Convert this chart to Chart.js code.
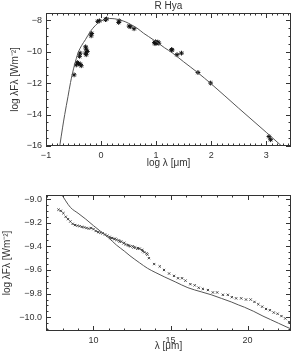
<!DOCTYPE html>
<html>
<head>
<meta charset="utf-8">
<script src="https://cdn.jsdelivr.net/npm/chart.js@4.4.1/dist/chart.umd.min.js"></script>
<style>
  body { margin: 0; background: #fff; }
  .panel { position: absolute; left: 0; width: 296px; height: 178px; }
</style>
</head>
<body>
<div class="panel" style="top:0"><canvas id="sed" width="296" height="178"></canvas></div>
<div class="panel" style="top:178px"><canvas id="lrs" width="296" height="178"></canvas></div>
<script>
// photometry of R Hya, log lambda [um] vs log lambda F_lambda [W m^-2]
const sedLogLam  = [-0.49, -0.45, -0.43, -0.41, -0.38, -0.36, -0.39, -0.38, -0.28, -0.27, -0.28, -0.25, -0.27,
                    -0.17, -0.18, -0.06, -0.03, 0.08, 0.10, 0.32, 0.33, 0.51, 0.53, 0.60,
                    0.97, 0.99, 1.01, 1.03, 1.05, 0.98, 1.28, 1.29, 1.38, 1.46, 1.76, 1.99, 3.05, 3.08];
const sedLogFlux = [-11.48, -10.85, -10.70, -10.75, -10.80, -10.90, -10.30, -10.10, -9.70, -9.85, -10.10, -10.00, -10.20,
                    -8.85, -9.00, -8.08, -8.05, -7.97, -7.93, -8.15, -8.05, -8.38, -8.42, -8.55,
                    -9.42, -9.38, -9.45, -9.40, -9.47, -9.50, -9.88, -9.90, -10.20, -10.10, -11.33, -12.00, -15.40, -15.60];
// model SED
const sedModelLogLam  = [-0.75, -0.70, -0.66, -0.60, -0.555, -0.50, -0.45, -0.42, -0.35, -0.285, -0.20, -0.10, -0.05,
                         0.00, 0.10, 0.15, 0.25, 0.35, 0.45, 0.55, 0.65, 0.77, 0.86, 1.00, 1.15, 1.30, 1.50,
                         1.76, 2.00, 2.50, 3.00, 3.28];
const sedModelLogFlux = [-16.0, -14.85, -14.0, -12.85, -11.97, -11.1, -10.45, -10.1, -9.6, -9.25, -8.75, -8.33, -8.18,
                         -8.06, -7.93, -7.90, -7.92, -8.00, -8.12, -8.30, -8.50, -8.83, -9.04, -9.37, -9.75, -10.1, -10.65,
                         -11.35, -12.05, -13.6, -15.13, -16.0];
// IRAS LRS spectrum, lambda [um]
const lrsLam = [7.73, 7.88, 8.05, 8.20, 8.35, 8.50, 8.65, 8.80, 8.95, 9.10, 9.25, 9.40, 9.55, 9.70, 9.85,
                10.00, 10.15, 10.30, 10.45, 10.60, 10.75, 10.90, 11.05, 11.20, 11.35, 11.50, 11.65, 11.80, 11.95,
                12.10, 12.25, 12.40, 12.55, 12.70, 12.85, 13.00, 13.15, 13.30, 13.45, 13.60,
                11.10, 11.40, 11.70, 12.00, 12.30, 12.60, 12.90, 13.20, 13.50,
                13.94, 14.30, 14.58, 14.91, 15.23, 15.49, 15.75, 15.97, 16.29, 16.57, 16.83, 17.10, 17.43, 17.75,
                18.03, 18.40, 18.72, 18.98, 19.26, 19.59, 19.90, 20.20, 20.45, 20.70, 20.95, 21.20, 21.45, 21.70,
                21.95, 22.20, 22.45, 22.70];
const lrsLogFlux = [-9.09, -9.10, -9.12, -9.15, -9.17, -9.19, -9.21, -9.22, -9.225, -9.23, -9.235, -9.24, -9.245, -9.25, -9.245,
                    -9.255, -9.27, -9.28, -9.285, -9.29, -9.30, -9.31, -9.32, -9.33, -9.34, -9.345, -9.35, -9.36, -9.375,
                    -9.385, -9.39, -9.40, -9.40, -9.41, -9.42, -9.42, -9.43, -9.45, -9.46, -9.50,
                    -9.33, -9.335, -9.36, -9.37, -9.395, -9.41, -9.415, -9.44, -9.47,
                    -9.55, -9.57, -9.60, -9.63, -9.65, -9.67, -9.67, -9.69, -9.72, -9.73, -9.75, -9.76, -9.77, -9.79,
                    -9.79, -9.81, -9.81, -9.83, -9.84, -9.84, -9.85, -9.85, -9.87, -9.89, -9.91, -9.93, -9.94, -9.96,
                    -9.97, -9.99, -10.01, -10.04];
const lrsModelLam  = [7.90, 8.50, 9.00, 9.50, 10.00, 10.43, 11.00, 11.50, 12.00, 12.37, 13.00, 13.50, 14.00, 14.63,
                      15.30, 16.13, 17.00, 17.65, 18.30, 18.94, 19.40, 19.80, 20.40, 21.00, 21.50, 22.00, 22.50, 22.85];
const lrsModelLogFlux = [-8.955, -9.07, -9.12, -9.17, -9.225, -9.27, -9.33, -9.39, -9.44, -9.48, -9.54, -9.585, -9.62, -9.66,
                         -9.70, -9.75, -9.785, -9.81, -9.84, -9.87, -9.895, -9.915, -9.95, -9.99, -10.02, -10.05, -10.08, -10.10];

const sedXTicks = [-1, 0, 1, 2, 3];
const sedYTicks = [-16, -14, -12, -10, -8];
const lrsXTicks = [10, 15, 20];
const lrsYTicks = [-10.0, -9.8, -9.6, -9.4, -9.2, -9.0];

const yTitle = 'log \u03bbF\u03bb [Wm\u207b\u00b2]';
const ink = '#333';
const tickFont = { family: 'Liberation Sans, Arial, sans-serif', size: 9 };
const titleFont = { family: 'Liberation Sans, Arial, sans-serif', size: 10 };
const minus = s => s.replace('-', '\u2212');

// IDL style frame: box with inward ticks on all four sides
const idlFrame = {
  id: 'idlFrame',
  afterDatasetsDraw(chart, args, opts) {
    const { ctx, chartArea: a, scales } = chart;
    ctx.save();
    ctx.strokeStyle = ink;
    ctx.lineWidth = 1;
    ctx.strokeRect(a.left + 0.5, a.top + 0.5, a.right - a.left - 1, a.bottom - a.top - 1);
    ctx.beginPath();
    const sx = scales.x, sy = scales.y;
    const mark = (scale, v, len, horiz) => {
      const p = Math.round(scale.getPixelForValue(v)) + 0.5;
      if (horiz) {
        ctx.moveTo(p, a.bottom); ctx.lineTo(p, a.bottom - len);
        ctx.moveTo(p, a.top); ctx.lineTo(p, a.top + len);
      } else {
        ctx.moveTo(a.left, p); ctx.lineTo(a.left + len, p);
        ctx.moveTo(a.right, p); ctx.lineTo(a.right - len, p);
      }
    };
    const minors = (scale, step, major, horiz) => {
      const n0 = Math.ceil(scale.min / step - 1e-6), n1 = Math.floor(scale.max / step + 1e-6);
      for (let n = n0; n <= n1; n++) {
        const v = n * step;
        if (major.some(m => Math.abs(m - v) < step / 10)) continue;
        mark(scale, v, 2.5, horiz);
      }
    };
    opts.xMajor.forEach(v => mark(sx, v, 5, true));
    opts.yMajor.forEach(v => mark(sy, v, 5, false));
    minors(sx, opts.xMinor, opts.xMajor, true);
    minors(sy, opts.yMinor, opts.yMajor, false);
    ctx.stroke();
    ctx.restore();
  }
};

function axis(min, max, ticks, fmt, extra) {
  return Object.assign({
    type: 'linear', min: min, max: max,
    grid: { display: false, drawTicks: false },
    border: { display: false },
    afterBuildTicks: s => { s.ticks = ticks.map(v => ({ value: v })); },
    ticks: { color: ink, font: tickFont, padding: 4, callback: fmt, maxRotation: 0, autoSkip: false }
  }, extra);
}

Chart.defaults.color = ink;
Chart.defaults.animation = false;

new Chart(document.getElementById('sed'), {
  type: 'scatter',
  data: {
    datasets: [{
      data: sedModelLogLam.map((v, i) => ({ x: v, y: sedModelLogFlux[i] })),
      showLine: true, borderColor: '#555', borderWidth: 1, pointRadius: 0,
      cubicInterpolationMode: 'monotone'
    }, {
      data: sedLogLam.map((v, i) => ({ x: v, y: sedLogFlux[i] })),
      pointStyle: 'star', pointRadius: 2.4, borderColor: '#111', borderWidth: 1
    }]
  },
  options: {
    responsive: false,
    devicePixelRatio: 1,
    layout: { padding: { left: 0, right: 3, top: 0, bottom: 0 } },
    plugins: {
      legend: { display: false }, tooltip: { enabled: false },
      idlFrame: { xMajor: sedXTicks, yMajor: sedYTicks, xMinor: 0.1, yMinor: 0.5 }
    },
    scales: {
      x: axis(-1, 3.45, sedXTicks, v => minus(String(v)), {
        afterFit: s => { s.height = 32; },
        title: { display: true, text: 'log \u03bb [\u03bcm]', color: ink, font: titleFont, padding: { top: 0, bottom: 9 } }
      }),
      top: {
        type: 'linear', position: 'top', min: 0, max: 1,
        grid: { display: false, drawTicks: false }, border: { display: false },
        ticks: { display: false },
        afterFit: s => { s.height = 13; },
        title: { display: true, text: 'R Hya', color: ink, font: titleFont, padding: { top: 0.6, bottom: 0 } }
      },
      y: axis(-16, -7.55, sedYTicks, v => minus(String(v)), {
        afterFit: s => { s.width = 46; },
        title: { display: true, text: yTitle, color: ink, font: titleFont, padding: { top: 9, bottom: 0 } }
      })
    }
  },
  plugins: [idlFrame]
});

new Chart(document.getElementById('lrs'), {
  type: 'scatter',
  data: {
    datasets: [{
      data: lrsModelLam.map((v, i) => ({ x: v, y: lrsModelLogFlux[i] })),
      showLine: true, borderColor: '#555', borderWidth: 1, pointRadius: 0,
      cubicInterpolationMode: 'monotone'
    }, {
      data: lrsLam.map((v, i) => ({ x: v, y: lrsLogFlux[i] })),
      pointStyle: 'crossRot', pointRadius: 1.6, borderColor: '#444', borderWidth: 1
    }]
  },
  options: {
    responsive: false,
    devicePixelRatio: 1,
    layout: { padding: { left: 0, right: 3, top: 17, bottom: 0 } },
    plugins: {
      legend: { display: false }, tooltip: { enabled: false },
      idlFrame: { xMajor: lrsXTicks, yMajor: lrsYTicks, xMinor: 1, yMinor: 0.05 }
    },
    scales: {
      x: axis(6.92, 22.82, lrsXTicks, v => String(v), {
        afterFit: s => { s.height = 25; },
        title: { display: true, text: '\u03bb [\u03bcm]', color: ink, font: titleFont, padding: { top: 0, bottom: 3.6 } }
      }),
      y: axis(-10.116, -8.966, lrsYTicks, v => minus(v.toFixed(1)), {
        afterFit: s => { s.width = 46; },
        title: { display: true, text: yTitle, color: ink, font: titleFont, padding: { top: 1, bottom: 0 } }
      })
    }
  },
  plugins: [idlFrame]
});
</script>
</body>
</html>
